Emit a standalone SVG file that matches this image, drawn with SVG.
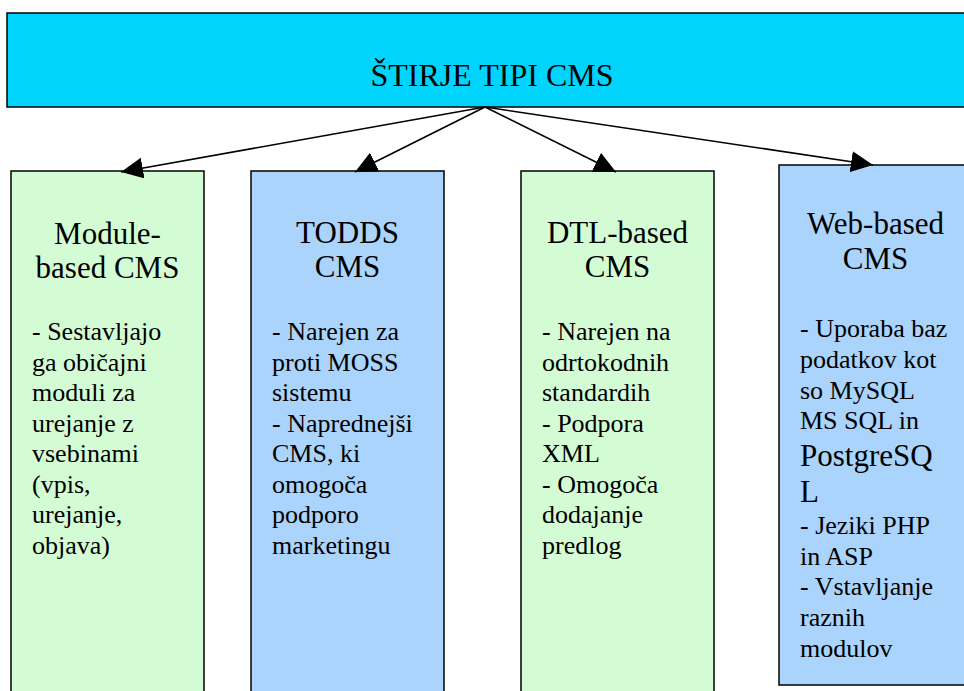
<svg xmlns="http://www.w3.org/2000/svg" width="964" height="691" viewBox="0 0 964 691">
<style>
.box{stroke:#000;stroke-width:1.5}
.g{fill:#D4FCD4}
.b{fill:#AAD4FC}
.top{fill:#00D4FC}
text{font-family:"Liberation Serif","Times New Roman",serif;fill:#000}
.h{font-size:32px;text-anchor:middle}
.t{font-size:31px;text-anchor:middle}
.d{font-size:26px}
.big{font-size:31px}
.edge{stroke:#000;stroke-width:1.6;fill:none}
</style>
<defs>
<marker id="arr" markerUnits="userSpaceOnUse" markerWidth="24" markerHeight="22" refX="22" refY="10.5" orient="auto" viewBox="0 0 24 22">
<path d="M0,0 L22,10.5 L0,21 z" fill="#000"/>
</marker>
</defs>
<rect width="964" height="691" fill="#fff"/>
<g id="top">
<rect class="box top" x="7" y="13" width="972" height="94"/>
<text class="h" x="492" y="86">ŠTIRJE TIPI CMS</text>
</g>
<g id="module">
<rect class="box g" x="11" y="171" width="193" height="540"/>
<text class="t" x="107.5" y="244">Module-</text>
<text class="t" x="107.5" y="278">based CMS</text>
<text class="d" x="32" y="340"><tspan x="32">- Sestavljajo</tspan><tspan x="32" dy="30.5">ga običajni</tspan><tspan x="32" dy="30.5">moduli za</tspan><tspan x="32" dy="30.5">urejanje z</tspan><tspan x="32" dy="30.5">vsebinami</tspan><tspan x="32" dy="30.5">(vpis,</tspan><tspan x="32" dy="30.5">urejanje,</tspan><tspan x="32" dy="30.5">objava)</tspan></text>
</g>
<g id="todds">
<rect class="box b" x="251" y="171" width="193" height="540"/>
<text class="t" x="347.5" y="243">TODDS</text>
<text class="t" x="347.5" y="277">CMS</text>
<text class="d" x="272" y="340"><tspan x="272">- Narejen za</tspan><tspan x="272" dy="30.5">proti MOSS</tspan><tspan x="272" dy="30.5">sistemu</tspan><tspan x="272" dy="30.5">- Naprednejši</tspan><tspan x="272" dy="30.5">CMS, ki</tspan><tspan x="272" dy="30.5">omogoča</tspan><tspan x="272" dy="30.5">podporo</tspan><tspan x="272" dy="30.5">marketingu</tspan></text>
</g>
<g id="dtl">
<rect class="box g" x="521" y="171" width="193" height="540"/>
<text class="t" x="617.5" y="243">DTL-based</text>
<text class="t" x="617.5" y="277">CMS</text>
<text class="d" x="542" y="340"><tspan x="542">- Narejen na</tspan><tspan x="542" dy="30.5">odrtokodnih</tspan><tspan x="542" dy="30.5">standardih</tspan><tspan x="542" dy="30.5">- Podpora</tspan><tspan x="542" dy="30.5">XML</tspan><tspan x="542" dy="30.5">- Omogoča</tspan><tspan x="542" dy="30.5">dodajanje</tspan><tspan x="542" dy="30.5">predlog</tspan></text>
</g>
<g id="web">
<rect class="box b" x="779" y="165" width="193" height="520"/>
<text class="t" x="875.5" y="234">Web-based</text>
<text class="t" x="875.5" y="269">CMS</text>
<text class="d" x="800" y="337">- Uporaba baz</text>
<text class="d" x="800" y="368">podatkov kot</text>
<text class="d" x="800" y="399">so MySQL</text>
<text class="d" x="800" y="429">MS SQL in</text>
<text class="d big" x="800" y="466">PostgreSQ</text>
<text class="d big" x="800" y="502">L</text>
<text class="d" x="800" y="534">- Jeziki PHP</text>
<text class="d" x="800" y="565">in ASP</text>
<text class="d" x="800" y="595">- Vstavljanje</text>
<text class="d" x="800" y="626">raznih</text>
<text class="d" x="800" y="657">modulov</text>
</g>
<g id="connectors">
<line class="edge" x1="485" y1="107" x2="121" y2="172" marker-end="url(#arr)"/>
<line class="edge" x1="485" y1="107" x2="355" y2="172" marker-end="url(#arr)"/>
<line class="edge" x1="485" y1="107" x2="616" y2="172" marker-end="url(#arr)"/>
<line class="edge" x1="485" y1="107" x2="873" y2="165" marker-end="url(#arr)"/>
</g>
</svg>
